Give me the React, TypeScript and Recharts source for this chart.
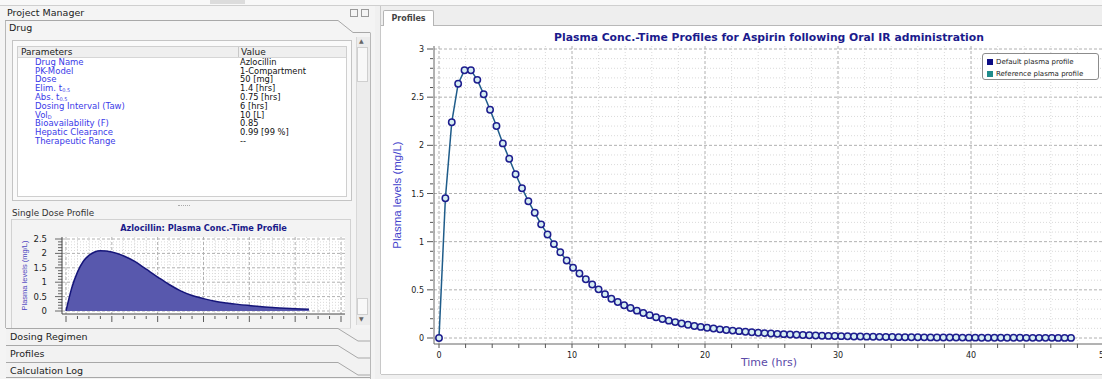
import React from 'react';
import {
  LineChart, Line, AreaChart, Area, XAxis, YAxis, CartesianGrid, Legend,
} from 'recharts';

// main profile: Aspirin, oral IR
const hours = [
  0, 0.48, 0.96, 1.44, 1.92, 2.4, 2.88, 3.36, 3.84, 4.32,
  4.8, 5.28, 5.76, 6.24, 6.72, 7.2, 7.68, 8.16, 8.64, 9.12,
  9.6, 10.08, 10.56, 11.04, 11.52, 12, 12.48, 12.96, 13.44, 13.92,
  14.4, 14.88, 15.36, 15.84, 16.32, 16.8, 17.28, 17.76, 18.24, 18.72,
  19.2, 19.68, 20.16, 20.64, 21.12, 21.6, 22.08, 22.56, 23.04, 23.52,
  24, 24.48, 24.96, 25.44, 25.92, 26.4, 26.88, 27.36, 27.84, 28.32,
  28.8, 29.28, 29.76, 30.24, 30.72, 31.2, 31.68, 32.16, 32.64, 33.12,
  33.6, 34.08, 34.56, 35.04, 35.52, 36, 36.48, 36.96, 37.44, 37.92,
  38.4, 38.88, 39.36, 39.84, 40.32, 40.8, 41.28, 41.76, 42.24, 42.72,
  43.2, 43.68, 44.16, 44.64, 45.12, 45.6, 46.08, 46.56, 47.04, 47.52,
];

const plasmaLevels = [
  0, 1.45, 2.24, 2.64, 2.78, 2.78, 2.68, 2.53, 2.37, 2.2,
  2.02, 1.86, 1.7, 1.555, 1.42, 1.3, 1.18, 1.075, 0.975, 0.89,
  0.805, 0.73, 0.67, 0.61, 0.555, 0.505, 0.455, 0.408, 0.373, 0.34,
  0.311, 0.284, 0.259, 0.237, 0.216, 0.197, 0.18, 0.165, 0.15, 0.137,
  0.125, 0.115, 0.106, 0.098, 0.09, 0.083, 0.077, 0.071, 0.065, 0.06,
  0.055, 0.051, 0.047, 0.043, 0.04, 0.037, 0.034, 0.031, 0.029, 0.026,
  0.024, 0.022, 0.021, 0.019, 0.018, 0.016, 0.015, 0.014, 0.013, 0.012,
  0.011, 0.01, 0.009, 0.0085, 0.008, 0.0073, 0.0067, 0.0062, 0.0057, 0.0053,
  0.0049, 0.0045, 0.0041, 0.0038, 0.0035, 0.0032, 0.003, 0.0027, 0.0025, 0.0023,
  0.0021, 0.002, 0.0018, 0.0017, 0.0015, 0.0014, 0.0013, 0.0012, 0.0011, 0.001,
];

const mainXTicks = [0, 2, 4, 6, 8, 10, 12, 14, 16, 18, 20, 22, 24, 26, 28, 30, 32, 34, 36, 38, 40, 42, 44, 46, 48, 50];
const mainYTicks = [
  0, 0.1, 0.2, 0.3, 0.4, 0.5, 0.6, 0.7, 0.8, 0.9, 1, 1.1, 1.2, 1.3, 1.4, 1.5,
  1.6, 1.7, 1.8, 1.9, 2, 2.1, 2.2, 2.3, 2.4, 2.5, 2.6, 2.7, 2.8, 2.9, 3,
];

const legendNames = ['Default plasma profile', 'Reference plasma profile'];
const legendColors = ['#0c0c84', '#1f8c8c'];

// single dose profile: Azlocillin
const singleDoseHours = [0, 0.25, 0.5, 0.75, 1, 1.25, 1.5, 2, 2.5, 3, 3.5, 4, 4.5, 5, 5.5, 6, 6.5, 7, 7.5, 8, 9, 10, 10.6];
const singleDoseLevels = [0, 0.8, 1.35, 1.72, 1.93, 2.05, 2.09, 2.05, 1.92, 1.72, 1.45, 1.18, 0.92, 0.7, 0.54, 0.43, 0.34, 0.28, 0.23, 0.19, 0.12, 0.08, 0.06];
const smallXTicks = [0, 0.5, 1, 1.5, 2, 2.5, 3, 3.5, 4, 4.5, 5, 5.5, 6, 6.5, 7, 7.5, 8, 8.5, 9, 9.5, 10, 10.5, 11, 11.5, 12];
const smallYTicks = [0, 0.1, 0.2, 0.3, 0.4, 0.5, 0.6, 0.7, 0.8, 0.9, 1, 1.1, 1.2, 1.3, 1.4, 1.5, 1.6, 1.7, 1.8, 1.9, 2, 2.1, 2.2, 2.3, 2.4, 2.5];

// drug parameter table
const paramNames = ['Drug Name', 'PK-Model', 'Dose', 'Elim. t', 'Abs. t', 'Dosing Interval (Taw)', 'Vol', 'Bioavailability (F)', 'Hepatic Clearance', 'Therapeutic Range'];
const paramSubs = ['', '', '', '0.5', '0.5', '', 'D', '', '', ''];
const paramValues = ['Azlocillin', '1-Compartment', '50 [mg]', '1.4 [hrs]', '0.75 [hrs]', '6 [hrs]', '10 [L]', '0.85', '0.99 [99 %]', '--'];

const accordionItems = ['Dosing Regimen', 'Profiles', 'Calculation Log'];

const profileData = hours.map((t, i) => ({ t, level: plasmaLevels[i] }));
const singleDoseData = singleDoseHours.map((t, i) => ({ t, level: singleDoseLevels[i] }));

const gridLine = (majorEvery: number) => (p: any) => {
  const major = p.index % majorEvery === 0;
  return (
    <line
      key={`g-${p.index}`}
      x1={p.x1} y1={p.y1} x2={p.x2} y2={p.y2}
      stroke={major ? '#b0b0b0' : '#dadada'}
      strokeDasharray={major ? '3 2' : '1 2'}
    />
  );
};

const isHalf = (v: number) => Math.round(v * 10) % 5 === 0;

function MainYTick({ x, y, payload }: any) {
  const major = isHalf(payload.value);
  return (
    <g>
      <line x1={x - (major ? 7 : 4)} x2={x - 1} y1={y} y2={y} stroke="#555" />
      {major && (
        <text x={x - 10} y={y} dy={3} textAnchor="end" fontSize={8} fill="#222">{payload.value}</text>
      )}
    </g>
  );
}

function MainXTick({ x, y, payload }: any) {
  const major = payload.value % 10 === 0;
  return (
    <g>
      <line x1={x} x2={x} y1={y} y2={y + 4} stroke="#555" />
      {major && (
        <text x={x} y={y + 14} textAnchor="middle" fontSize={8} fill="#222">{payload.value}</text>
      )}
    </g>
  );
}

function SmallYTick({ x, y, payload }: any) {
  const major = isHalf(payload.value);
  return (
    <g>
      <line x1={x - (major ? 7 : 4)} x2={x} y1={y} y2={y} stroke="#444" strokeWidth={0.8} />
      {major && (
        <text x={x - 15} y={y} dy={3} textAnchor="end" fontSize={8.5} fill="#222">{payload.value}</text>
      )}
    </g>
  );
}

function SmallXTick({ x, y, payload }: any) {
  const major = Math.round(payload.value * 2) % 4 === 0;
  return <line x1={x} x2={x} y1={y + 2} y2={y + (major ? 8 : 5)} stroke="#333" strokeWidth={0.8} />;
}

function ProfileLegend() {
  return (
    <div
      style={{
        width: 117, height: 27, boxSizing: 'border-box', border: '1px solid #8c8c8c', borderRadius: 3,
        background: '#fff', padding: '3px 0 0 4px', fontSize: 7, color: '#222',
      }}
    >
      {legendNames.map((name, i) => (
        <div key={name} style={{ display: 'flex', alignItems: 'center', height: 10, marginTop: i ? 2 : 0 }}>
          <span style={{ width: 6, height: 6, background: legendColors[i], marginRight: 3 }} />
          {name}
        </div>
      ))}
    </div>
  );
}

const abs = (left: number, top: number, extra: React.CSSProperties = {}): React.CSSProperties => ({
  position: 'absolute', left, top, ...extra,
});

export default function App() {
  return (
    <div
      style={{
        position: 'absolute', left: 0, top: 0, width: 1102, height: 379, overflow: 'hidden',
        background: '#f0f0f0', fontFamily: '"DejaVu Sans", sans-serif', color: '#222',
      }}
    >
      {/* top strip */}
      <div style={abs(0, 0, { width: 1102, height: 5, background: '#f8f8f8', borderBottom: '1px solid #cfcfcf' })} />
      <div style={abs(210, 0, { width: 35, height: 4, background: '#dcdcdc' })} />

      {/* ---------- left: project manager ---------- */}
      <div style={abs(0, 6, { width: 375, height: 373, background: '#f4f4f4' })} />
      <div style={abs(7, 7, { fontSize: 9.5, lineHeight: '12px' })}>Project Manager</div>
      <div style={abs(350, 9, { width: 6, height: 6, border: '1px solid #999' })} />
      <div style={abs(361, 9, { width: 6, height: 6, border: '1px solid #999' })} />
      <div style={abs(9, 22, { fontSize: 9.5, lineHeight: '12px' })}>Drug</div>

      {/* parameter table */}
      <div style={abs(12, 40, { width: 340, height: 161, border: '1px solid #c4c4c4', background: '#fafafa', boxSizing: 'border-box' })} />
      <div style={abs(17, 46, { width: 330, height: 151, border: '1px solid #cfcfcf', background: '#fff', boxSizing: 'border-box' })} />
      <div style={abs(18, 47, { width: 328, height: 10, background: '#efefef', borderBottom: '1px solid #d6d6d6' })} />
      <div style={abs(238, 47, { width: 1, height: 10, background: '#c8c8c8' })} />
      <div style={abs(21, 46, { fontSize: 9, lineHeight: '12px' })}>Parameters</div>
      <div style={abs(241, 46, { fontSize: 9, lineHeight: '12px' })}>Value</div>
      {paramNames.map((name, i) => (
        <React.Fragment key={name}>
          <div style={abs(35, 57.9 + i * 8.78, { fontSize: 8.5, lineHeight: '8.8px', color: '#3a3ae8', whiteSpace: 'nowrap' })}>
            {name}
            {paramSubs[i] && <sub style={{ fontSize: 5, verticalAlign: '-1px' }}>{paramSubs[i]}</sub>}
          </div>
          <div style={abs(240, 57.9 + i * 8.78, { fontSize: 8.3, lineHeight: '8.8px', color: '#111', whiteSpace: 'nowrap' })}>
            {paramValues[i]}
          </div>
        </React.Fragment>
      ))}
      <div style={abs(178, 205, { width: 12, height: 1, borderTop: '1px dotted #aaa' })} />

      {/* scrollbar */}
      <div style={abs(356, 37, { width: 13, height: 288, background: '#ececec', borderLeft: '1px solid #d8d8d8' })} />
      <div style={abs(357, 47, { width: 11, height: 35, background: '#f8f8f8', border: '1px solid #cfcfcf', boxSizing: 'border-box' })} />
      <div style={abs(357, 298, { width: 11, height: 17, background: '#f8f8f8', border: '1px solid #cfcfcf', boxSizing: 'border-box' })} />
      <div style={abs(359, 37, { fontSize: 6, color: '#666' })}>▲</div>
      <div style={abs(359, 315, { fontSize: 6, color: '#666' })}>▼</div>

      {/* single dose profile */}
      <div style={abs(12, 207, { fontSize: 8.8, lineHeight: '12px', color: '#333' })}>Single Dose Profile</div>
      <div style={abs(11, 219, { width: 338, height: 108, border: '1px solid #d2d2d2', background: '#f3f3f3', overflow: 'hidden' })}>
        <div style={abs(50, 3, { width: 283, textAlign: 'center', fontSize: 8.2, fontWeight: 'bold', color: '#1a1a8a', lineHeight: '10px', whiteSpace: 'nowrap' })}>
          Azlocillin: Plasma Conc.-Time Profile
        </div>
        <div style={abs(0, 0)}>
          <AreaChart width={338} height={120} data={singleDoseData} margin={{ top: 17, right: 5, bottom: 1, left: 6 }}>
            <CartesianGrid fill="#fff" syncWithTicks horizontal={gridLine(5)} vertical={gridLine(4)} />
            <XAxis
              dataKey="t" type="number" domain={[0, 12]} ticks={smallXTicks} interval={0}
              padding={{ left: 4, right: 4 }} height={25} tickSize={0} tickMargin={0}
              tickLine={false} tick={<SmallXTick />} axisLine={{ stroke: '#444' }}
            />
            <YAxis
              type="number" domain={[0, 2.5]} ticks={smallYTicks} interval={0} width={44}
              padding={{ top: 2, bottom: 3 }} tickSize={0} tickMargin={0} tickLine={false}
              tick={<SmallYTick />} axisLine={{ stroke: '#444' }}
              label={{
                value: 'Plasma levels (mg/L)', angle: -90, position: 'insideLeft', offset: 6,
                fill: '#5046c0', fontSize: 7.5, style: { textAnchor: 'middle', fontFamily: '"Liberation Sans", Arial, sans-serif' },
              }}
            />
            <Area
              type="monotone" dataKey="level" stroke="#15157a" strokeWidth={1.5}
              fill="#5858ad" fillOpacity={1} isAnimationActive={false} dot={false} activeDot={false}
            />
          </AreaChart>
        </div>
      </div>

      {/* accordion headers + drug tab outline */}
      <svg width={375} height={379} style={abs(0, 0)}>
        <polyline points="5,20.5 338,20.5 353,32.5 370,32.5" fill="none" stroke="#a8a8a8" />
        <line x1={5.5} y1={20.5} x2={5.5} y2={328} stroke="#b8b8b8" />
        <line x1={370.5} y1={32.5} x2={370.5} y2={379} stroke="#b8b8b8" />
        {accordionItems.map((name, i) => {
          const y0 = 328.5 + i * 17;
          return (
            <g key={name}>
              <rect x={6} y={y0} width={364} height={17} fill="#f2f2f2" />
              <polyline points={`6,${y0} 338,${y0} 358,${y0 + 12.5} 370,${y0 + 12.5}`} fill="none" stroke="#a8a8a8" />
              <text x={10} y={y0 + 11.5} fontSize={9.5} fill="#222">{name}</text>
            </g>
          );
        })}
        <line x1={6} y1={377.5} x2={370} y2={377.5} stroke="#a8a8a8" />
      </svg>

      {/* ---------- right: profiles ---------- */}
      <div style={abs(380, 6, { width: 722, height: 368, background: '#eeeeee', borderLeft: '1px solid #c8c8c8' })} />
      <div style={abs(381, 25, { width: 721, height: 348, background: '#fff', borderTop: '1px solid #b8b8b8', borderBottom: '1px solid #c8c8c8' })} />
      <div
        style={abs(383, 10, {
          width: 51, height: 16, background: '#fff', border: '1px solid #b4b4b4', borderBottom: 'none',
          borderRadius: '2px 2px 0 0', boxSizing: 'border-box', textAlign: 'center', fontSize: 8,
          fontWeight: 'bold', lineHeight: '16px', color: '#444',
        })}
      >
        Profiles
      </div>
      <div style={abs(434, 30.5, { width: 670, textAlign: 'center', fontSize: 10.8, fontWeight: 'bold', color: '#1a1a8c', lineHeight: '13px', whiteSpace: 'nowrap' })}>
        Plasma Conc.-Time Profiles for Aspirin following Oral IR administration
      </div>
      <div style={abs(380, 26)}>
        <LineChart width={724} height={348} data={profileData} margin={{ top: 20, right: 0, bottom: 0, left: 14 }}>
          <CartesianGrid syncWithTicks horizontal={gridLine(5)} vertical={gridLine(5)} />
          <XAxis
            dataKey="t" type="number" domain={[0, 50]} ticks={mainXTicks} interval={0}
            padding={{ left: 5 }} height={30} tickSize={0} tickMargin={0} tickLine={false}
            tick={<MainXTick />} axisLine={{ stroke: '#666' }}
            label={{ value: 'Time (hrs)', position: 'insideBottom', offset: 8, fill: '#5a4aa8', fontSize: 11 }}
          />
          <XAxis
            xAxisId="top" orientation="top" dataKey="t" type="number" domain={[0, 50]}
            padding={{ left: 5 }} height={0} tick={false} tickLine={false} axisLine={{ stroke: '#a8a8a8' }}
          />
          <YAxis
            type="number" domain={[0, 3]} ticks={mainYTicks} interval={0} width={40}
            padding={{ top: 3, bottom: 6 }} tickSize={0} tickMargin={0} tickLine={false}
            tick={<MainYTick />} axisLine={{ stroke: '#666' }}
            label={{
              value: 'Plasma levels (mg/L)', angle: -90, position: 'insideLeft', offset: 3,
              fill: '#4444cc', fontSize: 11.5, style: { textAnchor: 'middle', fontFamily: '"Liberation Sans", Arial, sans-serif' },
            }}
          />
          <Legend
            layout="vertical" align="center" verticalAlign="middle"
            wrapperStyle={{ left: 602, top: 27 }}
            content={() => <ProfileLegend />}
          />
          <Line
            type="linear" dataKey="level" name="Default plasma profile" stroke="#1f5c8a" strokeWidth={1.5}
            dot={{ r: 3.2, stroke: '#1d1d8e', strokeWidth: 1.5, fill: '#d6eef2' }} activeDot={false}
            isAnimationActive={false}
          />
        </LineChart>
      </div>
    </div>
  );
}
